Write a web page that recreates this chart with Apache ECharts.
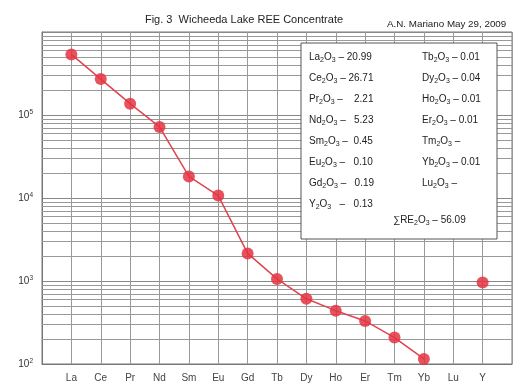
<!DOCTYPE html>
<html><head><meta charset="utf-8">
<script src="https://cdn.jsdelivr.net/npm/echarts@6/dist/echarts.min.js"></script>
<style>html,body{margin:0;padding:0;background:#fff}#c{width:529px;height:390px}</style>
</head><body><div id="c"></div>
<script>
// categories (padded with empty slots at both ends, as on the log paper)
const categories = ['', 'La','Ce','Pr','Nd','Sm','Eu','Gd','Tb','Dy','Ho','Er','Tm','Yb','Lu','Y', ''];
// chondrite-normalised values (null = no value)
const lineValues = [null, 537000, 271000, 137000, 71800, 18200, 10700, 2150, 1060, 611, 439, 330, 208, 115, null, null, null];
const yValues    = [null, null, null, null, null, null, null, null, null, null, null, null, null, null, null, 962, null];
// log-paper minor grid values
const minorGrid = [200,300,400,500,600,700,800,900,2000,3000,4000,5000,6000,7000,8000,9000,
  20000,30000,40000,50000,60000,70000,80000,90000,200000,300000,400000,500000,600000,700000,800000,900000];
// text box content
const leftCol  = [['La','– 20.99'],['Ce','– 26.71'],['Pr','–    2.21'],['Nd','–   5.23'],['Sm','–  0.45'],['Eu','–   0.10'],['Gd','–   0.19'],['Y','  –   0.13']];
const rightCol = [['Tb','– 0.01'],['Dy','– 0.04'],['Ho','– 0.01'],['Er','– 0.01'],['Tm','–'],['Yb','– 0.01'],['Lu','–']];
const totalText = ['∑RE','– 56.09'];

const chart = echarts.init(document.getElementById('c'), null, {renderer:'canvas'});
const FONT = 'Liberation Sans, Arial, sans-serif';
const red = 'rgba(228,52,66,0.85)';

const boxX = 301, boxY = 43, rowH = 21;
const subRich = {s:{fontSize:7, fontFamily:FONT, verticalAlign:'bottom', lineHeight:13}};
function oxide(el, v){ return el + '{s|2}O{s|3} ' + v; }
const Z = 100;
const boxChildren = [{type:'rect', z:Z, shape:{x:0,y:0,width:196,height:196}, style:{fill:'#fff', stroke:'#555', lineWidth:1}}];
function txt(x, y, s){ return {type:'text', z:Z+1, x:x, y:y, style:{text:s, fontSize:10, fontFamily:FONT, fill:'#222', lineHeight:13, rich:subRich}}; }
leftCol.forEach((r,i)=>boxChildren.push(txt(8, 8+i*rowH, oxide(r[0],r[1]))));
rightCol.forEach((r,i)=>boxChildren.push(txt(121, 8+i*rowH, oxide(r[0],r[1]))));
boxChildren.push(txt(92, 171, oxide(totalText[0],totalText[1])));

chart.setOption({
  animation:false,
  backgroundColor:'#fff',
  title:[
    {text:'Fig. 3  Wicheeda Lake REE Concentrate', left:239, top:9, textAlign:'center',
     textStyle:{fontSize:11, fontWeight:'normal', fontFamily:FONT, color:'#222'}},
    {text:'A.N. Mariano May 29, 2009', left:382, top:14,
     textStyle:{fontSize:9.8, fontWeight:'normal', fontFamily:FONT, color:'#222'}}
  ],
  grid:{left:42, right:17, top:32, bottom:26, show:true, borderColor:'#777', borderWidth:1},
  xAxis:{type:'category', data:categories, boundaryGap:false,
    axisLine:{lineStyle:{color:'#777'}}, axisTick:{show:false},
    axisLabel:{interval:0, color:'#444', fontSize:10, fontFamily:FONT, margin:9},
    splitLine:{show:true, lineStyle:{color:'#999', width:1}}},
  yAxis:{type:'log', logBase:10, min:100, max:1000000,
    axisLine:{show:true, lineStyle:{color:'#777'}}, axisTick:{show:false},
    splitLine:{show:true, lineStyle:{color:'#888', width:1}},
    axisLabel:{color:'#333', fontSize:10, fontFamily:FONT, margin:9,
      formatter:v=>{ const e=Math.round(Math.log10(v)); return e>=6 ? '' : '{b|10}{sup|'+e+'}'; },
      rich:{b:{fontSize:10, fontFamily:FONT, color:'#333', lineHeight:12}, sup:{fontSize:6.5, fontFamily:FONT, color:'#333', verticalAlign:'top', lineHeight:12}}}},
  series:[
    {type:'line', data:lineValues, connectNulls:false, symbol:'circle', symbolSize:12, z:5,
     lineStyle:{color:'#e0444f', width:1.5}, itemStyle:{color:red},
     markLine:{silent:true, symbol:'none', label:{show:false}, animation:false,
       lineStyle:{color:'#999', type:'solid', width:1}, emphasis:{disabled:true},
       data:minorGrid.map(v=>({yAxis:v}))}},
    {type:'line', data:yValues, symbol:'circle', symbolSize:12, showSymbol:true,
     lineStyle:{width:0}, itemStyle:{color:red}, z:5}
  ],
  graphic:[{type:'group', x:boxX, y:boxY, z:Z, children:boxChildren}]
});
</script></body></html>
